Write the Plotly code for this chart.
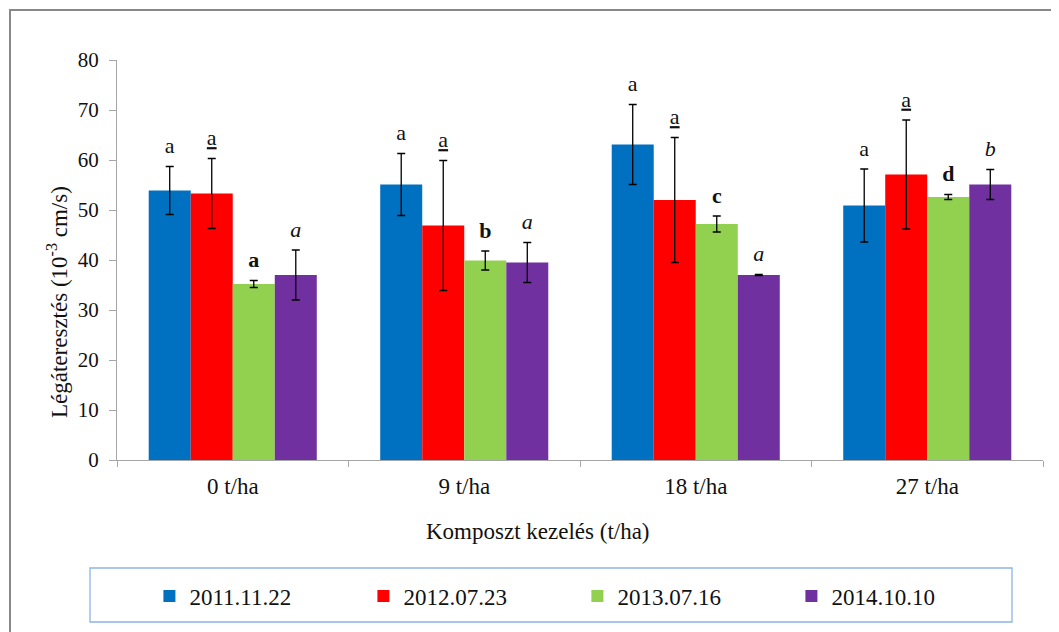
import plotly.graph_objects as go

# treatments and sampling dates
categories = ["0 t/ha", "9 t/ha", "18 t/ha", "27 t/ha"]
dates = ["2011.11.22", "2012.07.23", "2013.07.16", "2014.10.10"]

# air permeability means (10^-3 cm/s)
v2011 = [53.9, 55.1, 63.1, 50.9]
v2012 = [53.3, 46.9, 52.0, 57.1]
v2013 = [35.2, 39.9, 47.2, 52.6]
v2014 = [37.0, 39.5, 37.0, 55.1]

# standard deviations
e2011 = [4.8, 6.2, 8.0, 7.3]
e2012 = [7.0, 13.0, 12.5, 10.9]
e2013 = [0.7, 1.9, 1.6, 0.5]
e2014 = [5.0, 4.0, 0.1, 3.0]

# significance letters
l2011 = ["a", "a", "a", "a"]
l2012 = ["a", "a", "a", "a"]
l2013 = ["a", "b", "c", "d"]
l2014 = ["a", "a", "a", "b"]

colors = ["#0070C0", "#FF0000", "#92D050", "#7030A0"]
values = [v2011, v2012, v2013, v2014]
errors = [e2011, e2012, e2013, e2014]
letters = [l2011, l2012, l2013, l2014]
letter_fonts = [
    dict(),
    dict(lineposition="under"),
    dict(weight="bold"),
    dict(style="italic"),
]

FONT = "Times New Roman, Liberation Serif, DejaVu Serif, serif"
GAP = 0.274

fig = go.Figure()
for name, col, v, e in zip(dates, colors, values, errors):
    fig.add_trace(go.Bar(
        x=categories, y=v, name=name,
        marker=dict(color=col, line=dict(width=0)),
        error_y=dict(type="data", array=e, color="#000000", thickness=1.3, width=4),
    ))

# letters above the error bars, grouped like the bars
for v, e, lab, lf in zip(values, errors, letters, letter_fonts):
    fig.add_trace(go.Scatter(
        x=categories, y=[a + b for a, b in zip(v, e)],
        mode="markers+text", text=lab, textposition="top center",
        marker=dict(size=11, opacity=0),
        textfont=dict(family=FONT, size=22, color="#111111", **lf),
        showlegend=False, hoverinfo="skip",
    ))

# page body has an 8px margin, so the figure is 8px smaller and margins shift
fig.update_layout(
    width=1051, height=624,
    margin=dict(l=109, r=16, t=52, b=172),
    paper_bgcolor="white", plot_bgcolor="white",
    barmode="group", bargap=GAP, bargroupgap=0,
    scattermode="group", scattergap=GAP,
    font=dict(family=FONT, size=20, color="#111111"),
    showlegend=True,
    legend=dict(
        orientation="h", x=0.035, xanchor="left", y=-0.34, yanchor="middle",
        entrywidth=169, entrywidthmode="pixels",
        font=dict(family=FONT, size=23), bgcolor="rgba(0,0,0,0)", borderwidth=0,
    ),
)

fig.update_xaxes(
    type="category", showline=True, linecolor="#A6A6A6", linewidth=1,
    ticks="outside", tickson="boundaries", ticklen=6, tickcolor="#A6A6A6",
    showgrid=False, tickfont=dict(family=FONT, size=23), ticklabelstandoff=5,
)
fig.update_yaxes(
    range=[0, 80], dtick=10, showline=True, linecolor="#A6A6A6", linewidth=1,
    ticks="outside", ticklen=7, tickcolor="#A6A6A6", showgrid=False, zeroline=False,
    tickfont=dict(family=FONT, size=21), ticklabelstandoff=6,
)

# axis titles
fig.add_annotation(
    text="Komposzt kezelés (t/ha)", xref="paper", yref="paper",
    x=(538 - 117) / 926, y=(460 - 531) / 400, xanchor="center", yanchor="middle",
    showarrow=False, font=dict(family=FONT, size=23),
)
fig.add_annotation(
    text="Légáteresztés (10<sup>-3</sup> cm/s)", xref="paper", yref="paper",
    x=(57 - 117) / 926, y=(460 - 302) / 400, xanchor="center", yanchor="middle",
    textangle=-90, showarrow=False, font=dict(family=FONT, size=23),
)

# outer chart frame and legend box
fig.add_shape(type="rect", xref="paper", yref="paper",
              x0=(10 - 117) / 926, x1=(1075 - 117) / 926,
              y0=(460 - 645) / 400, y1=(460 - 10) / 400,
              line=dict(color="#888888", width=2), layer="below")
fig.add_shape(type="rect", xref="paper", yref="paper",
              x0=(90 - 117) / 926, x1=(1012 - 117) / 926,
              y0=(460 - 622) / 400, y1=(460 - 568) / 400,
              line=dict(color="#8EB4E3", width=1.3), layer="below")

fig.write_html("out.html")
